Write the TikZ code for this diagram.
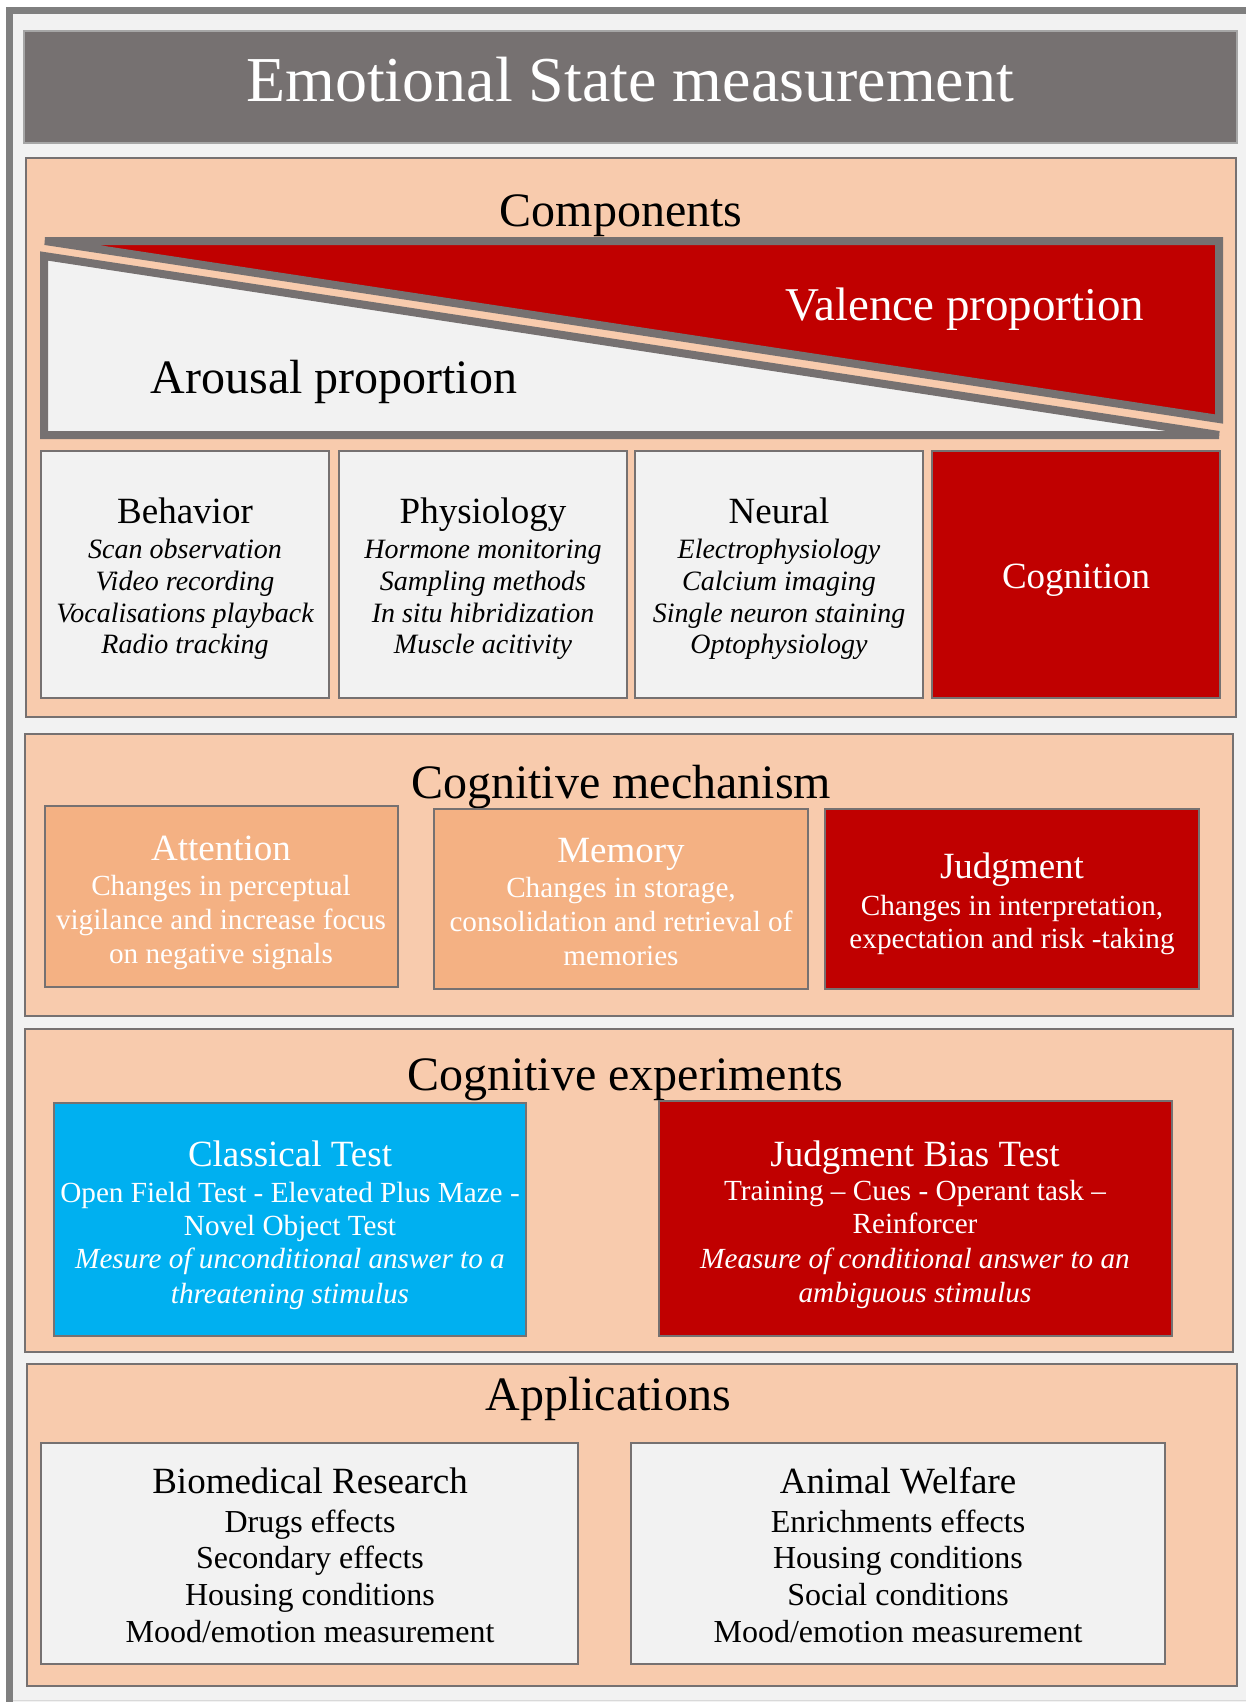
\documentclass[tikz,border=0pt]{standalone}
\usepackage{fontspec}
\setmainfont{Liberation Serif}
\definecolor{framebg}{RGB}{242,242,242}
\definecolor{framegray}{RGB}{127,127,127}
\definecolor{titlegray}{RGB}{118,113,113}
\definecolor{bordgray}{RGB}{118,113,113}
\definecolor{peach}{RGB}{248,203,173}
\definecolor{orangebox}{RGB}{244,177,131}
\definecolor{darkred}{RGB}{192,0,0}
\definecolor{skyblue}{RGB}{0,176,240}
\definecolor{lightbox}{RGB}{242,242,242}
\tikzset{
  secbox/.style={draw=bordgray, line width=1.25pt, fill=peach},
  inbox/.style={draw=bordgray, line width=1.25pt},
  wedge/.style={draw=bordgray, line width=4pt, line join=miter, miter limit=2},
  txt/.style={anchor=base, inner sep=0pt},
  sectitle/.style={txt, font=\fontsize{24}{28}\selectfont},
  hd/.style={txt, font=\fontsize{18.5}{22}\selectfont},
  itl/.style={txt, font=\fontsize{14}{16}\selectfont\itshape},
  bd/.style={txt, font=\fontsize{14.6}{17}\selectfont},
  bdit/.style={txt, font=\fontsize{14.6}{17}\selectfont\itshape},
  ap/.style={txt, font=\fontsize{16}{18}\selectfont},
  wt/.style={text=white},
}
\begin{document}
\begin{tikzpicture}[x=0.5pt,y=-0.5pt]
\useasboundingbox (0,0) rectangle (1246,1702);
% outer frame
\fill[white] (0,0) rectangle (1246,1702);
\fill[framebg] (6,7) rectangle (1246,1702);
\draw[framegray, line width=3.5pt] (9.5,1702) -- (9.5,11) -- (1246,11);
\draw[black!15, line width=0.6pt] (13,1700.5) -- (1246,1700.5);
% title
\draw[fill=titlegray, draw=black!35, line width=0.8pt] (24,31) rectangle (1237,143);
\node[txt, wt, font=\fontsize{32}{38}\selectfont] (title) at (630,102) {Emotional State measurement};

% ===== Components =====
\draw[secbox] (26,158) rectangle (1236,717);
\node[sectitle] (comptitle) at (621,226) {Components};
\draw[wedge, fill=darkred] (45,241) -- (1219,241) -- (1219,419) -- cycle;
\draw[wedge, fill=lightbox] (44,256) -- (44,435) -- (1219,435) -- cycle;
\node[txt, wt, font=\fontsize{23.5}{28}\selectfont] (valence) at (965,320) {Valence proportion};
\node[txt, font=\fontsize{24}{28}\selectfont] (arousal) at (334,393) {Arousal proportion};

\draw[inbox, fill=lightbox] (41,451) rectangle (329,698);
\draw[inbox, fill=lightbox] (339,451) rectangle (627,698);
\draw[inbox, fill=lightbox] (635,451) rectangle (923,698);
\draw[inbox, fill=darkred] (932,451) rectangle (1220,698);

\node[hd] (beh) at (185,523) {Behavior};
\node[itl] (beh1) at (185,558) {Scan observation};
\node[itl] (beh2) at (185,590) {Video recording};
\node[itl] (beh3) at (185,622) {Vocalisations playback};
\node[itl] (beh4) at (185,653) {Radio tracking};

\node[hd] (phy) at (483,523) {Physiology};
\node[itl] (phy1) at (483,558) {Hormone monitoring};
\node[itl] (phy2) at (483,590) {Sampling methods};
\node[itl] (phy3) at (483,622) {In situ hibridization};
\node[itl] (phy4) at (483,653) {Muscle acitivity};

\node[hd] (neu) at (779,523) {Neural};
\node[itl] (neu1) at (779,558) {Electrophysiology};
\node[itl] (neu2) at (779,590) {Calcium imaging};
\node[itl] (neu3) at (779,622) {Single neuron staining};
\node[itl] (neu4) at (779,653) {Optophysiology};

\node[hd, wt] (cog) at (1076,588) {Cognition};

% ===== Cognitive mechanism =====
\draw[secbox] (25,734) rectangle (1233,1016);
\node[sectitle] (mechtitle) at (621,798) {Cognitive mechanism};
\draw[inbox, fill=orangebox] (45,806) rectangle (398,987);
\draw[inbox, fill=orangebox] (434,809) rectangle (808,989);
\draw[inbox, fill=darkred] (825,809) rectangle (1199,989);

\node[hd, wt] (att) at (221,860) {Attention};
\node[bd, wt] (att1) at (221,895) {Changes in perceptual};
\node[bd, wt] (att2) at (221,929) {vigilance and increase focus};
\node[bd, wt] (att3) at (221,963) {on negative signals};

\node[hd, wt] (mem) at (621,862) {Memory};
\node[bd, wt] (mem1) at (621,897) {Changes in storage,};
\node[bd, wt] (mem2) at (621,931) {consolidation and retrieval of};
\node[bd, wt] (mem3) at (621,965) {memories};

\node[hd, wt] (jud) at (1012,878) {Judgment};
\node[bd, wt] (jud1) at (1012,915) {Changes in interpretation,};
\node[bd, wt] (jud2) at (1012,948) {expectation and risk -taking};

% ===== Cognitive experiments =====
\draw[secbox] (25,1029) rectangle (1233,1352);
\node[sectitle] (exptitle) at (625,1090) {Cognitive experiments};
\draw[inbox, fill=skyblue] (54,1103) rectangle (526,1336);
\draw[inbox, fill=darkred] (659,1101) rectangle (1172,1336);

\node[hd, wt] (cla) at (290,1166) {Classical Test};
\node[bd, wt] (cla1) at (290,1202) {Open Field Test - Elevated Plus Maze -};
\node[bd, wt] (cla2) at (290,1235) {Novel Object Test};
\node[bdit, wt] (cla3) at (290,1268) {Mesure of unconditional answer to a};
\node[bdit, wt] (cla4) at (290,1303) {threatening stimulus};

\node[hd, wt] (jbt) at (915,1166) {Judgment Bias Test};
\node[bd, wt] (jbt1) at (915,1200) {Training \textendash{} Cues - Operant task \textendash};
\node[bd, wt] (jbt2) at (915,1233) {Reinforcer};
\node[bdit, wt] (jbt3) at (915,1268) {Measure of conditional answer to an};
\node[bdit, wt] (jbt4) at (915,1302) {ambiguous stimulus};

% ===== Applications =====
\draw[secbox] (27,1364) rectangle (1237,1686);
\node[sectitle] (apptitle) at (608,1410) {Applications};
\draw[inbox, fill=lightbox] (41,1443) rectangle (578,1664);
\draw[inbox, fill=lightbox] (631,1443) rectangle (1165,1664);

\node[hd] (bio) at (310,1493) {Biomedical Research};
\node[ap] (bio1) at (310,1532) {Drugs effects};
\node[ap] (bio2) at (310,1568) {Secondary effects};
\node[ap] (bio3) at (310,1605) {Housing conditions};
\node[ap] (bio4) at (310,1642) {Mood/emotion measurement};

\node[hd] (aw) at (898,1493) {Animal Welfare};
\node[ap] (aw1) at (898,1532) {Enrichments effects};
\node[ap] (aw2) at (898,1568) {Housing conditions};
\node[ap] (aw3) at (898,1605) {Social conditions};
\node[ap] (aw4) at (898,1642) {Mood/emotion measurement};
\end{tikzpicture}
\end{document}
